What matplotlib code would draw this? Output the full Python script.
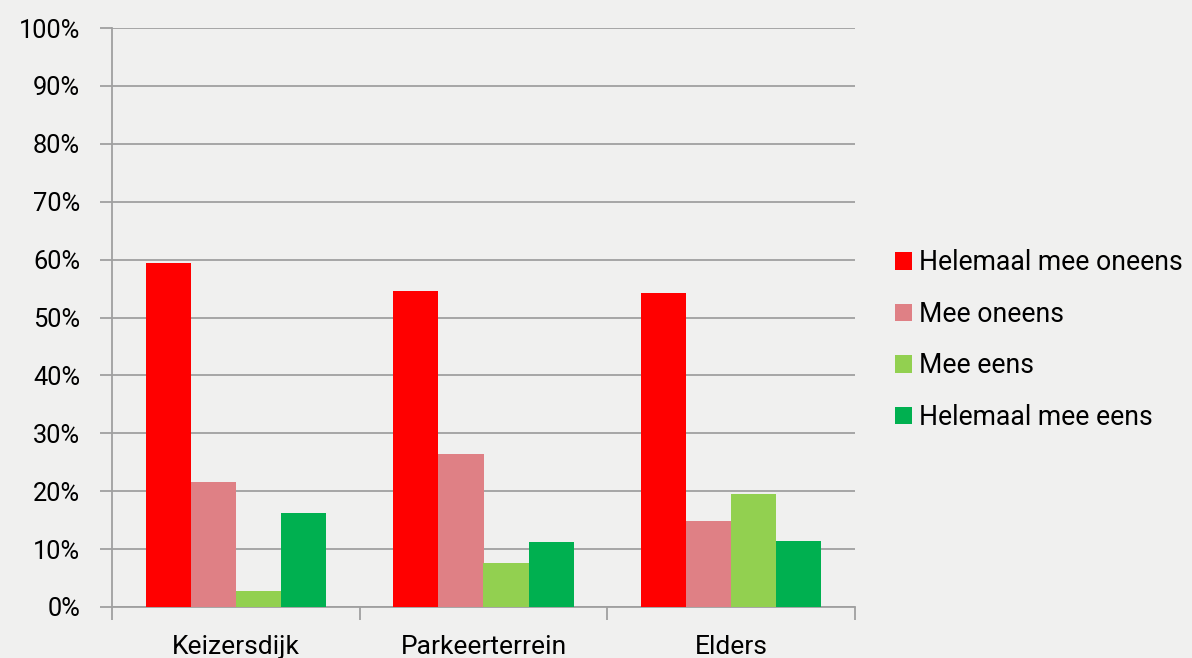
import numpy as np
import matplotlib.pyplot as plt
from matplotlib.patches import Patch

plt.rcParams['font.family'] = ['Roboto', 'DejaVu Sans']

categories = ['Keizersdijk', 'Parkeerterrein', 'Elders']
series = ['Helemaal mee oneens', 'Mee oneens', 'Mee eens', 'Helemaal mee eens']
helemaal_oneens = [59.4, 54.6, 54.2]
mee_oneens = [21.6, 26.4, 14.9]
mee_eens = [2.8, 7.6, 19.5]
helemaal_eens = [16.2, 11.2, 11.4]
colors = ['#FF0000', '#DF8085', '#92D050', '#00B050']

bg = '#F0F0EF'
grid = '#A0A0A0'

fig = plt.figure(figsize=(11.92, 6.58), dpi=100, facecolor=bg)
ax = fig.add_axes([112/1192, 1-607/658, (855-112)/1192, (607-28)/658])
ax.set_facecolor(bg)

x = np.arange(len(categories))
w = 0.182
data = [helemaal_oneens, mee_oneens, mee_eens, helemaal_eens]
for i, vals in enumerate(data):
    ax.bar(x + (i - 1.5) * w, vals, width=w, color=colors[i], zorder=3)

ax.set_xlim(-0.5, 2.5)
ax.set_ylim(0, 100)
ax.set_yticks(np.arange(0, 101, 10))
ax.set_yticklabels([f'{v}%' for v in range(0, 101, 10)])
ax.yaxis.grid(True, color=grid, linewidth=1.3, zorder=0)

# category labels in the middle, ticks on the boundaries
ax.set_xticks([-0.5, 0.5, 1.5, 2.5])
ax.set_xticklabels([])
ax.set_xticks(x, minor=True)
ax.set_xticklabels(categories, minor=True)
ax.tick_params(axis='x', which='major', length=9, width=1.3, color=grid)
ax.tick_params(axis='x', which='minor', length=0, pad=20, labelsize=19)
ax.tick_params(axis='y', length=9, width=1.3, color=grid, pad=14, labelsize=18.3)

for s in ['top', 'right']:
    ax.spines[s].set_visible(False)
for s in ['left', 'bottom']:
    ax.spines[s].set_color(grid)
    ax.spines[s].set_linewidth(1.3)

handles = [Patch(facecolor=c) for c in colors]
fig.legend(handles, series, loc='center left', bbox_to_anchor=(0.731, 0.483),
           frameon=False, fontsize=19.2, handlelength=0.62, handleheight=0.62,
           handletextpad=0.28, labelspacing=0.92)

fig.savefig('out.png', dpi=100, facecolor=bg)
